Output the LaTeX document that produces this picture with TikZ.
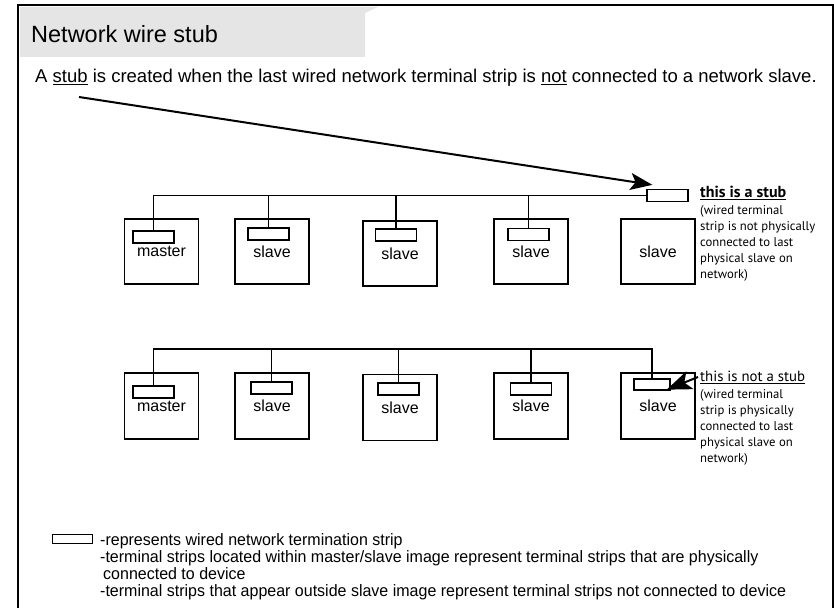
\documentclass[tikz,border=0pt]{standalone}
\usepackage{fontspec}
\setmainfont{Liberation Sans}
\newfontfamily\notefont{PT Sans}
\newfontfamily\narrowfont[FakeStretch=0.97]{Liberation Sans}
\usetikzlibrary{positioning, arrows.meta, calc}

\begin{document}
\begin{tikzpicture}[
  x=1pt, y=-1pt,
  font=\fontsize{16}{19}\selectfont,
  % Box styles
  device/.style={draw, rectangle, line width=1.3pt, minimum width=74pt, minimum height=65pt, inner sep=0pt},
  strip/.style={draw, rectangle, line width=1.3pt, minimum width=41pt, minimum height=12pt, inner sep=0pt, fill=white},
  note/.style={anchor=north west, align=left, inner sep=0pt, font=\notefont\fontsize{12.7}{16}\selectfont},
  legend/.style={anchor=north west, align=left, inner sep=0pt, font=\narrowfont\fontsize{16.5}{17}\selectfont},
  % Line styles
  wire/.style={draw, line width=1.2pt},
  pointer/.style={draw, line width=2pt, -{Stealth[length=22pt, width=17pt, inset=5pt]}}
]

  \useasboundingbox (0,0) rectangle (834,607);

  % ==========================================
  % FRAME AND TITLE
  % ==========================================
  \fill[black!10] (20,7) -- (378,7) -- (365,13) -- (365,57) -- (20,57) -- cycle;
  \draw[line width=2.5pt] (18,612) -- (18,5) -- (833,5) -- (833,612);

  \node[anchor=west, inner sep=0pt, font=\fontsize{23.5}{27}\selectfont] (title) at (31,34) {Network wire stub};
  \node[anchor=west, inner sep=0pt, font=\fontsize{18.5}{22}\selectfont] (intro) at (35,78)
    {A \underline{stub} is created when the last wired network terminal strip is \underline{not} connected to a network slave.};
  \coordinate (stubword) at (79,97);

  % ==========================================
  % FIRST NETWORK: STUB
  % ==========================================
  \node[device] (master1) at (161.5,251.5) {master};
  \node[device] (slave1a) at (272,251.5) {slave};
  \node[device] (slave2a) at (400,253.5) {slave};
  \node[device] (slave3a) at (531,251.5) {slave};
  \node[device] (slave4a) at (658,251.5) {slave};

  \node[strip] (ms1) at (153.5,237) {};
  \node[strip] (s1a) at (268.5,234) {};
  \node[strip] (s2a) at (396,235) {};
  \node[strip] (s3a) at (528.5,234.5) {};
  \node[strip] (stub) at (667.5,195.5) {};

  % Bus
  \draw[wire] (ms1.north) |- (stub.west);
  \foreach \s in {s1a, s2a, s3a}
    \draw[wire] (\s.north) -- (\s.north |- stub.west);

  \node[note] (stubnote) at (700,186)
    {{\fontsize{16}{18}\selectfont\bfseries\underline{this is a stub}}\\[1pt]
     (wired terminal\\strip is not physically\\connected to last\\physical slave on\\network)};

  \draw[pointer] (stubword) -- ($(stub.north west)+(6,-4)$);

  % ==========================================
  % SECOND NETWORK: NO STUB
  % ==========================================
  \node[device, minimum height=66pt] (master2) at (161.5,406) {master};
  \node[device, minimum height=66pt] (slave1b) at (272,406) {slave};
  \node[device, minimum height=66pt] (slave2b) at (400,407.5) {slave};
  \node[device, minimum height=66pt] (slave3b) at (531,406) {slave};
  \node[device, minimum height=66pt] (slave4b) at (658,406) {slave};

  \node[strip] (ms2) at (153.5,392) {};
  \node[strip] (s1b) at (271.5,388) {};
  \node[strip] (s2b) at (398.5,389) {};
  \node[strip] (s3b) at (531,389) {};
  \node[strip, minimum width=36pt, minimum height=11pt] (lastb) at (652,384.5) {};

  % Bus
  \coordinate (bus2) at (0,349);
  \draw[wire] (ms2.north) |- (bus2 -| lastb.north) -- (lastb.north);
  \foreach \s in {s1b, s2b, s3b}
    \draw[wire] (\s.north) -- (\s.north |- bus2);

  \node[note] (nostubnote) at (700,371)
    {{\fontsize{14.8}{18}\selectfont\underline{this is not a stub}}\\[1pt]
     (wired terminal\\strip is physically\\connected to last\\physical slave on\\network)};

  \coordinate (notail) at (698,377);
  \draw[pointer, -{Stealth[length=25pt, width=19pt, inset=6pt]}] (notail) -- ($(lastb.south east)+(-4,-1)$);

  % ==========================================
  % LEGEND
  % ==========================================
  \node[strip, minimum width=40pt, minimum height=9pt, line width=1pt] (legstrip) at (72,539) {};
  \node[legend] (legtext) at (100,533)
    {-represents wired network termination strip\\
     -terminal strips located within master/slave image represent terminal strips that are physically\\
     \hspace*{3pt}connected to device\\
     -terminal strips that appear outside slave image represent terminal strips not connected to device};

\end{tikzpicture}
\end{document}
